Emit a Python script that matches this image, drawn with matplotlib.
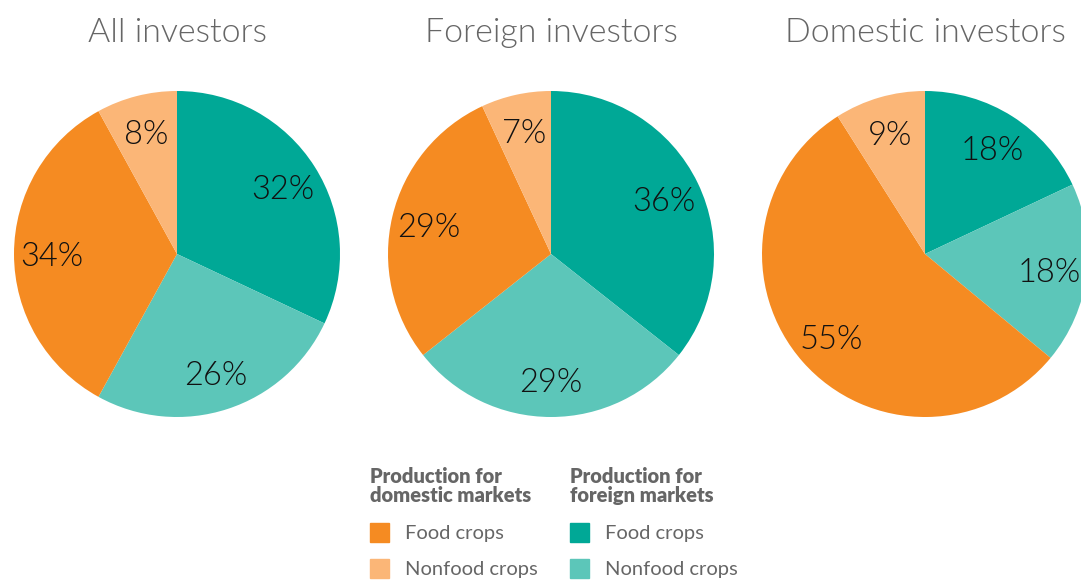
import matplotlib
matplotlib.use("Agg")
import matplotlib.pyplot as plt
from matplotlib.patches import Rectangle

# data
titles = ["All investors", "Foreign investors", "Domestic investors"]
categories = ["Foreign food", "Foreign nonfood", "Domestic food", "Domestic nonfood"]
all_inv = [32, 26, 34, 8]
foreign_inv = [36, 29, 29, 7]
domestic_inv = [18, 18, 55, 9]
colors = ["#00A896", "#5CC6B9", "#F58B22", "#FBB677"]

plt.rcParams['font.family'] = ['Lato', 'DejaVu Sans']

W, H = 1081, 580
fig = plt.figure(figsize=(W / 100, H / 100), dpi=100)

centers_x = [177, 551, 925]
cy = 254
r = 163

for title, vals, cx in zip(titles, [all_inv, foreign_inv, domestic_inv], centers_x):
    ax = fig.add_axes([(cx - r) / W, (H - cy - r) / H, 2 * r / W, 2 * r / H])
    wedges, texts = ax.pie(vals, colors=colors, startangle=90, counterclock=False,
                           labels=[f"{v}%" for v in vals], labeldistance=0.77,
                           radius=1.0)
    for t in texts:
        t.set_ha("center")
        t.set_va("center_baseline")
        t.set_fontsize(23.5)
        t.set_fontweight(300)
        t.set_color("#111111")
    ax.set_xlim(-1, 1)
    ax.set_ylim(-1, 1)
    ax.set_aspect("equal")
    ax.axis("off")
    for w in wedges:
        w.set_clip_on(False)
    fig.text(cx / W, 1 - 33 / H, title, ha="center", va="center",
             fontsize=24.5, color="#666666", fontweight=300)

# legend
gray = "#666666"
cols = [(370, "Production for\ndomestic markets", colors[2], colors[3]),
        (570, "Production for\nforeign markets", colors[0], colors[1])]
for x, head, c1, c2 in cols:
    fig.text(x / W, 1 - 486 / H, head, ha="left", va="center", fontsize=14.5,
             fontweight=800, color=gray, linespacing=1.0)
    for y, c, lab in [(533, c1, "Food crops"), (569, c2, "Nonfood crops")]:
        fig.patches.append(Rectangle((x / W, 1 - (y + 9) / H), 19 / W, 19 / H,
                                     transform=fig.transFigure, color=c))
        fig.text((x + 35) / W, 1 - y / H, lab, ha="left", va="center",
                 fontsize=14.5, color=gray)

fig.savefig("out.png", dpi=100)
